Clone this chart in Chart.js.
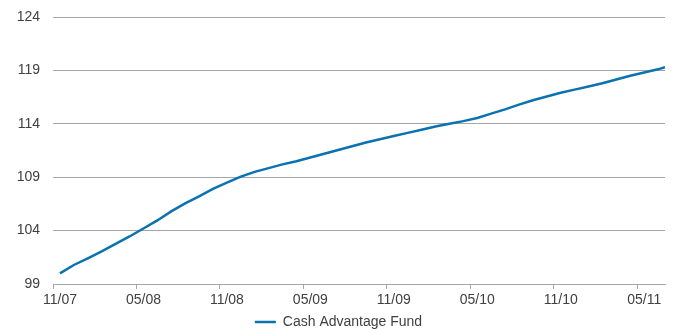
<!DOCTYPE html>
<html>
<head>
<meta charset="utf-8">
<script src="https://cdn.jsdelivr.net/npm/chart.js@4"></script>
<style>
  html, body { margin: 0; padding: 0; background: #fff; }
  #wrap { width: 675px; height: 329px; }
</style>
</head>
<body>
<div id="wrap"><canvas id="chart"></canvas></div>
<script>
// months since 11/07 (x) and fund index value (y)
const monthOffsets = [0.5, 1.5, 2.5, 3.5, 4.5, 5.5, 6.5, 7.5, 8.5, 9.5, 10.5, 11.5, 12.5, 13.5, 14.5,
    15.5, 16.5, 17.5, 18.5, 19.5, 20.5, 21.5, 22.5, 23.5, 24.5, 25.5, 26.5, 27.5, 28.5, 29.5,
    30.5, 31.5, 32.5, 33.5, 34.5, 35.5, 36.5, 37.5, 38.5, 39.5, 40.5, 41.5, 42.5, 43.5, 44];
const fundValues = [100.0, 100.78, 101.4, 102.05, 102.75, 103.45, 104.2, 104.95, 105.8, 106.55, 107.2,
    107.9, 108.5, 109.05, 109.5, 109.85, 110.2, 110.5, 110.85, 111.2, 111.55, 111.9, 112.25,
    112.55, 112.85, 113.15, 113.45, 113.75, 114.0, 114.25, 114.55, 114.95, 115.35, 115.8, 116.2,
    116.55, 116.9, 117.2, 117.5, 117.8, 118.15, 118.5, 118.8, 119.1, 119.3];
const tickLabels = ['11/07', '05/08', '11/08', '05/09', '11/09', '05/10', '11/10', '05/11'];
const seriesName = 'Cash Advantage Fund';

const textColor = '#404040';
const gridColor = '#a6a6a6';
const lineColor = '#0a72b0';

let points = [];
for (let i = 0; i < monthOffsets.length; i++) {
    points.push({x: monthOffsets[i], y: fundValues[i]});
}

Chart.defaults.font.family = '"Liberation Sans", Arial, sans-serif';
Chart.defaults.font.size = 14;
Chart.defaults.color = textColor;

// squeeze the legend box so it sits at the very bottom, nudge it right a bit
const legendHeightPlugin = {
    id: 'legendHeight',
    beforeLayout(chart) {
        const lg = chart.legend;
        if (lg && !lg._patched) {
            const origFit = lg.fit.bind(lg);
            lg.fit = function() {
                origFit();
                this.height = 14;
            };
            lg._patched = true;
        }
    },
    afterLayout(chart) {
        const lg = chart.legend;
        if (lg) {
            lg.left += 6;
            lg.right += 6;
        }
    }
};

let ctx = document.getElementById('chart').getContext('2d');
let lineChart = new Chart(ctx, {
    type: 'scatter',
    data: {
        datasets: [{
            label: seriesName,
            data: points,
            showLine: true,
            fill: false,
            pointRadius: 0,
            borderWidth: 2.5,
            borderColor: lineColor,
            backgroundColor: lineColor,
            tension: 0
        }]
    },
    plugins: [legendHeightPlugin],
    options: {
        responsive: true,
        maintainAspectRatio: false,
        animation: false,
        layout: {
            padding: {top: 17, right: 10, left: 0, bottom: 0}
        },
        plugins: {
            tooltip: {enabled: false},
            legend: {
                position: 'bottom',
                labels: {
                    usePointStyle: true,
                    pointStyle: 'line',
                    pointStyleWidth: 21,
                    padding: 0,
                    color: textColor
                }
            }
        },
        scales: {
            x: {
                type: 'linear',
                min: 0,
                max: 44,
                afterFit: (scale) => { scale.height = 31; },
                afterBuildTicks: (scale) => {
                    scale.ticks = tickLabels.map((t, i) => ({value: i * 6}));
                },
                ticks: {
                    autoSkip: false,
                    maxRotation: 0,
                    padding: 3,
                    labelOffset: 7,
                    callback: (value) => tickLabels[value / 6]
                },
                grid: {
                    drawOnChartArea: false,
                    drawTicks: true,
                    tickLength: 5,
                    color: gridColor
                },
                border: {color: gridColor, width: 1}
            },
            y: {
                min: 99,
                max: 124,
                afterFit: (scale) => { scale.width = 53; },
                ticks: {
                    stepSize: 5,
                    padding: 3
                },
                grid: {
                    drawTicks: true,
                    tickLength: 10,
                    tickColor: 'rgba(0,0,0,0)',
                    color: gridColor,
                    lineWidth: 1
                },
                border: {display: false}
            }
        }
    }
});
</script>
</body>
</html>
